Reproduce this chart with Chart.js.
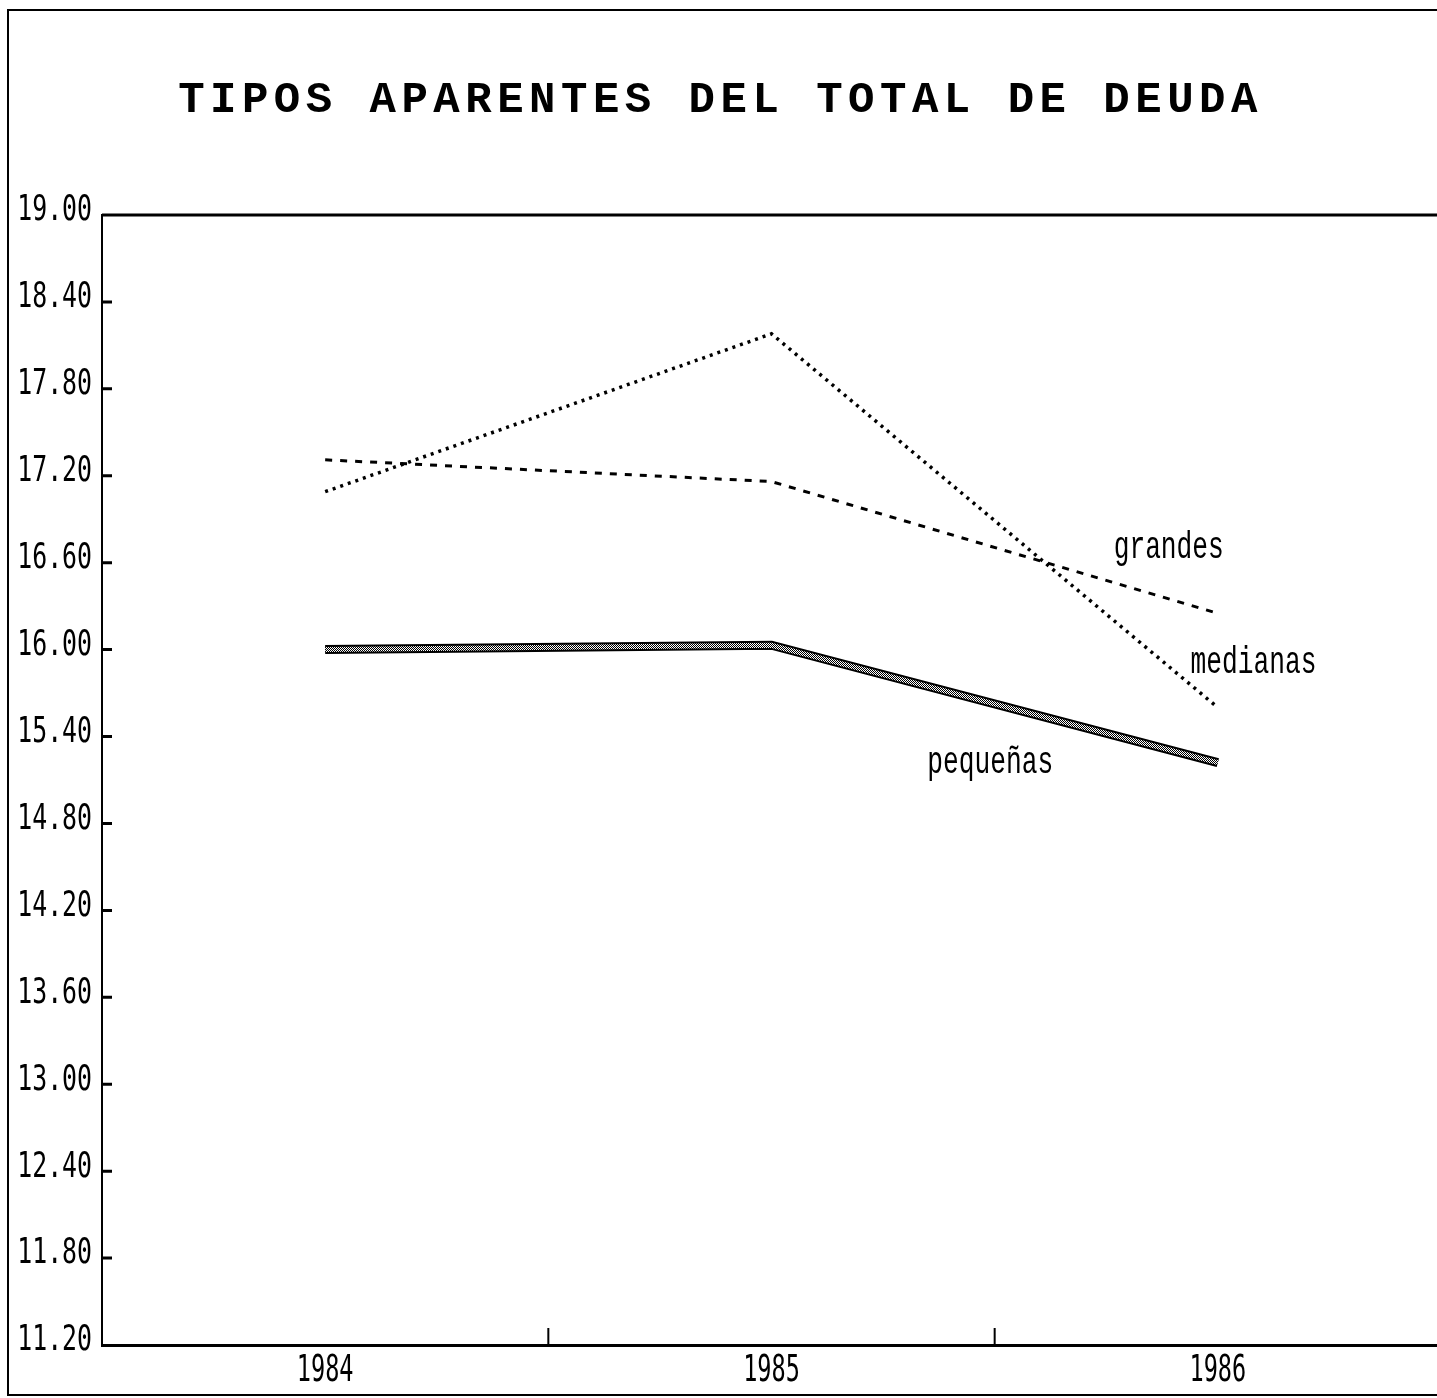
<!DOCTYPE html>
<html>
<head>
<meta charset="utf-8">
<script src="https://cdn.jsdelivr.net/npm/chart.js@4"></script>
<style>
html,body{margin:0;padding:0;overflow:hidden;background:#fff;width:1437px;height:1398px}
#frame{position:absolute;left:7px;top:9px;width:1500px;height:1387px;border:2px solid #000;box-sizing:border-box}
#wrap{position:absolute;left:0;top:0;width:1441px;height:1398px}
</style>
</head>
<body>
<div id="frame"></div>
<div id="wrap"><canvas id="c"></canvas></div>
<script>
// ---- data ----
const years = [1984, 1985, 1986];
const grandes = [17.31, 17.16, 16.25];
const medianas = [17.09, 18.18, 15.60];
const pequenas = [16.00, 16.03, 15.22];
const seriesNames = ['grandes', 'medianas', 'pequeñas'];
const titleText = 'TIPOS APARENTES DEL TOTAL DE DEUDA';
const yMin = 11.2, yMax = 19.0, yStep = 0.6;

const toXY = arr => years.map((yr, i) => ({x: yr, y: arr[i]}));

// checker pattern for the "pequeñas" band
const pc = document.createElement('canvas');
pc.width = 2; pc.height = 2;
const pctx = pc.getContext('2d');
pctx.fillStyle = '#fff'; pctx.fillRect(0, 0, 2, 2);
pctx.fillStyle = '#000'; pctx.fillRect(0, 0, 1, 1); pctx.fillRect(1, 1, 1, 1);

function condensedText(ctx, text, x, y, font, sx, align, baseline) {
  ctx.save();
  ctx.translate(x, y);
  ctx.scale(sx, 1);
  ctx.font = font;
  ctx.textAlign = align;
  ctx.textBaseline = baseline;
  ctx.fillText(text, 0, 0);
  ctx.restore();
}

const spacing = {
  id: 'spacing',
  beforeDraw(chart) { chart.ctx.letterSpacing = '5.5px'; },
  beforeDatasetsDraw(chart) { chart.ctx.letterSpacing = '0px'; }
};

const decor = {
  id: 'decor',
  afterDatasetsDraw(chart) {
    const ctx = chart.ctx;
    const pts = chart.getDatasetMeta(2).data;
    ctx.save();
    ctx.strokeStyle = ctx.createPattern(pc, 'repeat');
    ctx.lineWidth = 5;
    ctx.lineCap = 'butt';
    ctx.beginPath();
    pts.forEach((p, i) => i ? ctx.lineTo(p.x, p.y) : ctx.moveTo(p.x, p.y));
    ctx.stroke();
    ctx.restore();
  },
  afterDraw(chart, args, opts) {
    const {ctx, chartArea: a, scales: {x, y}} = chart;
    ctx.save();
    ctx.strokeStyle = '#000';
    ctx.fillStyle = '#000';
    ctx.lineWidth = 3;
    ctx.beginPath();
    ctx.moveTo(a.left, a.top); ctx.lineTo(a.right, a.top);
    y.ticks.forEach(t => {
      if (t.value <= y.min + 1e-9 || t.value >= y.max - 1e-9) return;
      const py = y.getPixelForValue(t.value);
      ctx.moveTo(a.left, py); ctx.lineTo(a.left + 10, py);
    });
    ctx.stroke();
    ctx.lineWidth = 2;
    ctx.beginPath();
    x.ticks.forEach(t => {
      if (Number.isInteger(t.value) || t.value <= x.min || t.value >= x.max) return;
      const px = x.getPixelForValue(t.value);
      ctx.moveTo(px, a.bottom); ctx.lineTo(px, a.bottom - 17);
    });
    ctx.stroke();
    // tick labels (from the library's generated ticks)
    const mono = '"DejaVu Sans Mono", monospace';
    y.ticks.forEach(t => {
      condensedText(ctx, t.label, a.left - 10, y.getPixelForValue(t.value) - 4, '36px ' + mono, 0.69, 'right', 'middle');
    });
    x.ticks.forEach(t => {
      if (!t.label) return;
      condensedText(ctx, t.label, x.getPixelForValue(t.value), a.bottom + 26, '38px ' + mono, 0.62, 'center', 'middle');
    });
    // series labels
    opts.labels.forEach(l => {
      condensedText(ctx, l.text, x.getPixelForValue(l.x), y.getPixelForValue(l.y), '38px "Liberation Mono", monospace', 0.69, 'center', 'middle');
    });
    ctx.restore();
  }
};

new Chart(document.getElementById('c'), {
  type: 'line',
  data: {
    datasets: [
      {label: seriesNames[0], data: toXY(grandes), borderColor: '#000', borderWidth: 3, borderDash: [7, 8], pointRadius: 0, fill: false, tension: 0},
      {label: seriesNames[1], data: toXY(medianas), borderColor: '#000', borderWidth: 3.5, borderDash: [3, 5], pointRadius: 0, fill: false, tension: 0},
      {label: seriesNames[2], data: toXY(pequenas), borderColor: '#000', borderWidth: 9, borderCapStyle: 'butt', pointRadius: 0, fill: false, tension: 0}
    ]
  },
  options: {
    responsive: true,
    maintainAspectRatio: false,
    animation: false,
    devicePixelRatio: 1,
    layout: {padding: 0},
    plugins: {
      legend: {display: false},
      tooltip: {enabled: false},
      title: {
        display: true,
        text: titleText,
        color: '#000',
        font: {family: '"Liberation Mono", "DejaVu Sans Mono", monospace', size: 44, weight: 'bold', lineHeight: 1},
        padding: {top: 79, bottom: 92}
      },
      decor: {
        labels: [
          {text: seriesNames[0], x: 1985.89, y: 16.70},
          {text: seriesNames[1], x: 1986.08, y: 15.91},
          {text: seriesNames[2], x: 1985.49, y: 15.22}
        ]
      }
    },
    scales: {
      x: {
        type: 'linear',
        min: 1983.5, max: 1986.5,
        afterFit: s => { s.height = 53; s.paddingLeft = 0; s.paddingRight = 0; },
        grid: {display: true, drawOnChartArea: false, drawTicks: false, color: 'rgba(0,0,0,0)'},
        border: {display: true, color: '#000', width: 3},
        ticks: {
          display: false,
          stepSize: 0.5,
          autoSkip: false,
          maxRotation: 0,
          callback: v => Number.isInteger(v) ? String(v) : ''
        }
      },
      y: {
        min: yMin, max: yMax,
        afterFit: s => { s.width = 102; s.paddingTop = 0; s.paddingBottom = 0; },
        grid: {display: true, drawOnChartArea: false, drawTicks: false, color: 'rgba(0,0,0,0)'},
        border: {display: true, color: '#000', width: 2},
        ticks: {
          display: false,
          stepSize: yStep,
          autoSkip: false,
          callback: v => Number(v).toFixed(2)
        }
      }
    }
  },
  plugins: [spacing, decor]
});
</script>
</body>
</html>
